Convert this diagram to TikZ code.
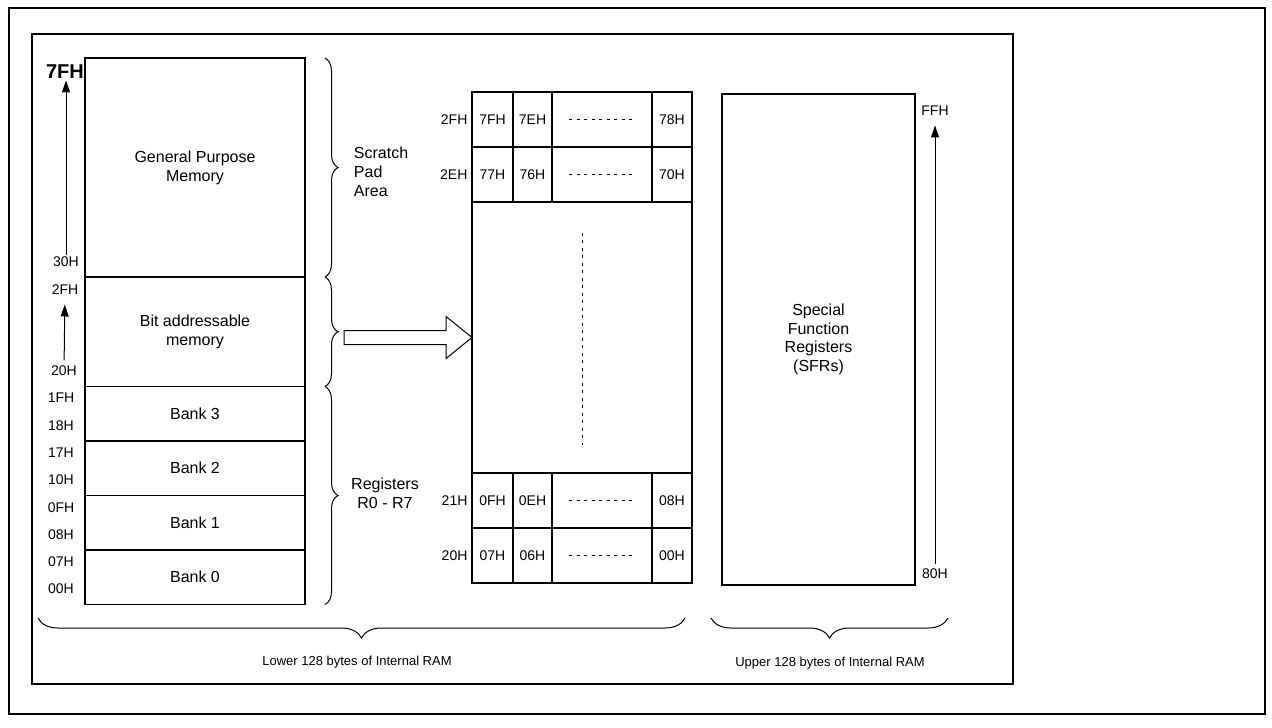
\documentclass[tikz,border=0pt]{standalone}
\usepackage{fontspec}
\setsansfont{Liberation Sans}
\usepackage{tikz}
\usetikzlibrary{arrows.meta, decorations.pathreplacing, positioning}
\tikzset{every picture/.style={/utils/exec={\sffamily}}}

\begin{document}
\begin{tikzpicture}[x=1pt, y=-1pt, >={Triangle[length=12pt, width=8pt, fill=black]}, line width=1.2pt,
    region/.style={draw, rectangle, minimum width=220pt, inner sep=0pt, outer sep=0pt, align=center, font=\fontsize{16}{19}\selectfont},
    cell/.style={draw, rectangle, minimum height=55pt, inner sep=0pt, outer sep=0pt, font=\fontsize{14}{16}\selectfont},
    addr/.style={inner sep=1pt, font=\fontsize{14}{16}\selectfont},
    note/.style={align=center, font=\fontsize{16}{19}\selectfont},
    caption/.style={font=\fontsize{13}{15}\selectfont},
    brc/.style={decorate, line width=1pt, decoration={brace, amplitude=13pt}},
    brcdown/.style={decorate, line width=1pt, decoration={brace, mirror, amplitude=20pt}},
    dots/.style={line width=1pt, dash pattern=on 3pt off 4.5pt}]
    \useasboundingbox (0,0) rectangle (1272,728);

    % Frames
    \draw[line width=2.5pt] (9,8) rectangle (1265,714);
    \draw (32,34) rectangle (1013,684);

    % Lower 128 bytes
    \node[region, minimum height=219pt] (gpm) at (195,167.5) {General Purpose\\Memory};
    \node[region, minimum height=109.5pt, below=0pt of gpm] (bit) {Bit addressable\\memory};
    \node[region, minimum height=54.5pt, below=0pt of bit] (bank3) {Bank 3};
    \node[region, minimum height=54.5pt, below=0pt of bank3] (bank2) {Bank 2};
    \node[region, minimum height=54.5pt, below=0pt of bank2] (bank1) {Bank 1};
    \node[region, minimum height=54.5pt, below=0pt of bank1] (bank0) {Bank 0};

    % Addresses
    \node[inner sep=1pt, font=\fontsize{20}{22}\selectfont\bfseries] (a7F) at (65,72) {7FH};
    \node[addr] (a30) at (66,262) {30H};
    \node[addr] (a2F) at (65,290) {2FH};
    \node[addr] (a20) at (64,371) {20H};
    \foreach \lbl/\y in {1FH/398, 18H/426, 17H/453, 10H/480, 0FH/508, 08H/535, 07H/562, 00H/589}
        \node[addr] (a\lbl) at (61,\y) {\lbl};
    \draw[->, line width=1pt] (a30.north) -- (a30.north |- a7F.south);
    \draw[->, line width=1pt, shorten <=4pt, shorten >=8pt] (a20) -- (a2F);

    % Braces
    \draw[brc] ([xshift=20pt]gpm.north east) -- ([xshift=20pt]gpm.south east);
    \draw[brc] ([xshift=20pt]bit.north east) -- ([xshift=20pt]bit.south east);
    \draw[brc] ([xshift=20pt]bank3.north east) -- ([xshift=20pt]bank0.south east);
    \node[note, align=left, anchor=west] (scratch) at (350,172) {Scratch\\Pad\\Area};
    \node[note] (regs) at (385,493) {Registers\\R0 - R7};

    % Bit addressable area
    \node[draw, rectangle, minimum width=220pt, minimum height=491pt, inner sep=0pt, outer sep=0pt] (bitmap) at (582,337.5) {};
    \foreach \row/\y/\a/\b/\z in {2FH/119.5/7FH/7EH/78H, 2EH/174.5/77H/76H/70H, 21H/500.5/0FH/0EH/08H, 20H/555.5/07H/06H/00H} {
        \node[cell, minimum width=41pt] (c\row-a) at (492.5,\y) {\a};
        \node[cell, minimum width=39pt, right=0pt of c\row-a] (c\row-b) {\b};
        \node[cell, minimum width=100pt, right=0pt of c\row-b] (c\row-c) {};
        \node[cell, minimum width=40pt, right=0pt of c\row-c] (c\row-d) {\z};
        \node[addr, left=3pt of c\row-a] (r\row) {\row};
        \draw[dots] ([xshift=-33pt]c\row-c.center) -- ([xshift=33pt]c\row-c.center);
    }
    \draw[dots] ([yshift=105pt]bitmap.center) -- ([yshift=-107pt]bitmap.center);

    % Hollow arrow
    \draw[line width=1pt, fill=white] (bitmap.west) -- ++(-26,-21) -- ++(0,14) -- ++(-102,0)
        -- ++(0,14) -- ++(102,0) -- ++(0,14) -- cycle;

    % Upper 128 bytes
    \node[draw, rectangle, minimum width=193pt, minimum height=491pt, inner sep=0pt, outer sep=0pt,
        align=center, font=\fontsize{16}{18.5}\selectfont] (sfr) at (818.5,339.5) {Special\\Function\\Registers\\(SFRs)};
    \node[addr] (aFF) at (935,111) {FFH};
    \node[addr] (a80) at (935,574) {80H};
    \draw[->, line width=1pt, shorten <=3pt, shorten >=8pt] (a80) -- (aFF);

    % Bottom braces
    \coordinate (lowL) at (38,618);
    \coordinate (lowR) at (685,618);
    \coordinate (upL) at (711,618);
    \coordinate (upR) at (948,618);
    \draw[brcdown] (lowL) -- (lowR);
    \draw[brcdown] (upL) -- (upR);
    \node[caption] (lower) at (357,662) {Lower 128 bytes of Internal RAM};
    \node[caption] (upper) at (830,663) {Upper 128 bytes of Internal RAM};
\end{tikzpicture}
\end{document}
